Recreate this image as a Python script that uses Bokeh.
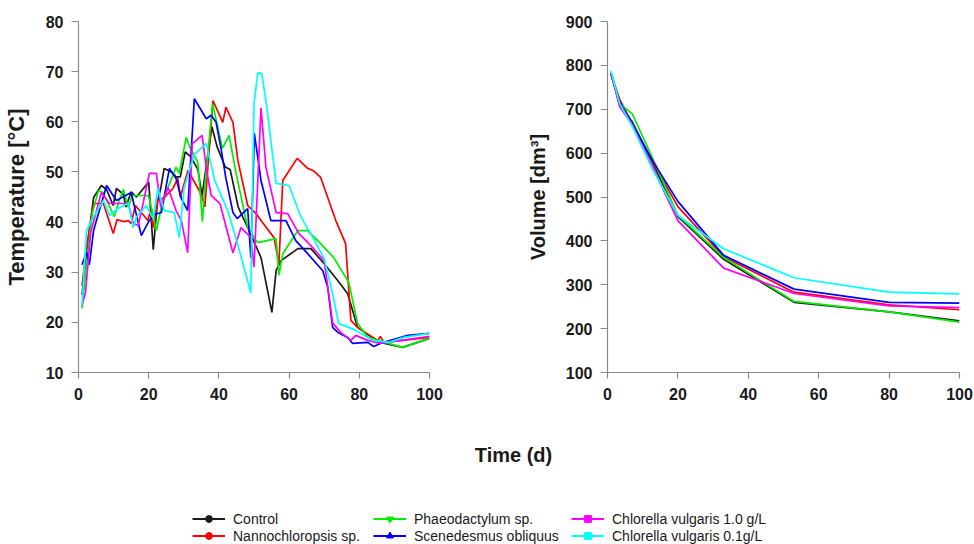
from bokeh.plotting import figure
from bokeh.layouts import column, row
from bokeh.models import Range1d, Legend, LegendItem, Label, FixedTicker
from bokeh.embed import file_html
from bokeh.resources import INLINE

# ---------------- data ----------------
series_names = ["Control", "Nannochloropsis sp.", "Phaeodactylum sp.",
                "Scenedesmus obliquus", "Chlorella vulgaris 1.0 g/L", "Chlorella vulgaris 0.1g/L"]
series_colors = ["#1a1a1a", "#ff0000", "#00ee00", "#0000ff", "#ff00ff", "#00ffff"]
series_markers = ["circle", "circle", "inverted_triangle", "triangle", "square", "square"]

# Temperature (left panel)
days_ctrl = [1, 2.5, 4.3, 6.5, 8, 9.9, 10.8, 12.8, 13.5, 15, 16.5, 20, 21.3, 22.5, 23.5, 24.4, 26.5, 27.8, 29,
             30.4, 32, 34, 35.2, 38, 39.5, 41.8, 43.2, 45.5, 48.6, 52, 55.1, 56.3, 57.7, 62.5, 66.2, 70, 73.9,
             76.7, 79.5, 82.7, 86, 92.3, 100]
temp_ctrl = [25.5, 35, 44.9, 47.3, 46.5, 43.3, 46.7, 45.5, 43, 46, 45, 48, 34.5, 44, 47, 50.7, 50, 49, 49,
             54, 53, 50.5, 45.3, 59, 55, 51, 50.5, 43, 38.3, 32.9, 22, 30.3, 32.3, 34.7, 34.7, 31.7, 28.3,
             25.7, 19, 17.4, 16, 15, 16.8]

days_red = [1, 2.5, 4.3, 7.1, 9.9, 11, 13, 14.2, 15, 16.2, 19.8, 20.5, 21.3, 22.6, 24.5, 26.9, 28.3, 29, 31.2,
            35, 36, 38.3, 41.1, 42, 44, 45.4, 48.2, 50.6, 52, 55.7, 57.1, 58.2, 62.3, 65.3, 66.8, 69, 73.3,
            76.1, 77.6, 79.5, 85.2, 86, 87, 100]
temp_red = [27.3, 36, 43.7, 43.7, 37.7, 40.5, 40.1, 40.3, 39.7, 43.3, 40.3, 42.3, 38.9, 44.3, 44.9, 46.7,
            48.7, 45, 50.3, 45.5, 43, 64.2, 59.9, 62.9, 59.9, 52.3, 43.3, 41.7, 40.3, 36.9, 31.7, 48.3, 52.7,
            50.7, 50.3, 48.9, 40.3, 35.7, 20.4, 19, 16.4, 17.2, 16, 17]

days_grn = [1, 2.5, 4, 5.7, 7, 10.2, 11.6, 12.8, 14.2, 15.3, 19.9, 20.5, 22.2, 23.6, 25.5, 27.8, 28.7, 30.7,
            31.5, 34, 35.3, 36, 38.2, 41, 42.9, 44.9, 48.2, 51, 56.3, 57.1, 58.2, 62.5, 65.3, 69, 72.7, 77,
            79.5, 82.4, 92.3, 100]
temp_grn = [22.8, 33, 42, 46.3, 45.9, 41.1, 44.3, 46.5, 42.9, 45.3, 45.3, 43.7, 38.3, 43, 46.9, 50.9, 49.7,
            56.9, 55.3, 51.9, 40.1, 47.3, 63.6, 54.7, 57.3, 49.7, 38.9, 35.9, 36.7, 29.4, 33.7, 38.3, 38.3,
            35.7, 32.9, 28, 19.8, 17, 15, 16.8]

days_blu = [1, 2.3, 3.1, 4.3, 8, 10.8, 15, 17.9, 19.9, 21.6, 23.6, 25.9, 27.8, 29.3, 31.1, 33, 36.4, 37.8,
            39.2, 40.6, 42, 44, 45.2, 48.2, 49.1, 50.1, 52, 54.8, 59.1, 61.9, 65.3, 69.6, 71, 72.4, 73.9,
            76.7, 78.1, 82.4, 84.1, 86, 93.8, 100]
temp_blu = [31.5, 34, 31.5, 38.3, 47.3, 44.3, 45.9, 37.3, 40, 41.5, 41.9, 50.7, 48.7, 44.7, 42.3, 64.6,
            60.6, 61.3, 59.9, 54.7, 48.7, 41.9, 40.7, 42.7, 32.9, 57.7, 48.3, 40.3, 40.3, 36.3, 33.7, 30.3,
            27, 19, 18, 17, 15.8, 16, 15.2, 15.8, 17.4, 17.8]

days_mag = [1, 2, 3.5, 6.5, 8.8, 14.2, 15.6, 17, 18.4, 20.2, 22.2, 23.4, 25.5, 27.8, 29.3, 31.1, 32.4, 35.2,
            36.6, 37.8, 40.3, 44, 46.3, 49.1, 50, 52, 53.4, 56.3, 59.6, 62.8, 66.2, 70, 71.3, 72.4, 74.7,
            77.6, 79, 82.4, 86, 100]
temp_mag = [23.4, 26, 38, 45.9, 43.7, 43.7, 39.7, 39.3, 43.7, 49.7, 49.7, 43, 46.9, 42.3, 40.3, 33.9, 55.6,
            57.3, 49.9, 45.3, 43.7, 33.9, 38.9, 36.9, 31, 62.8, 50.9, 41.9, 41.7, 37.7, 35.3, 32.3, 25.7,
            19.9, 18, 16.4, 17.4, 16.4, 15.8, 17.2]

days_cyn = [1, 2.3, 3.7, 7.1, 8.8, 11.6, 14.2, 15.6, 16.5, 19.3, 21.3, 22.6, 24.4, 27.3, 28.7, 30.1, 33,
            36.4, 38.8, 42.5, 44.9, 49.1, 50, 51.1, 52.2, 53.4, 56.3, 60, 63.4, 66.8, 70, 72.4, 74.1, 77,
            79, 83.8, 88.4, 92.6, 100]
temp_cyn = [23.5, 38.3, 40.3, 44.3, 41.3, 42.9, 43.7, 38.9, 41, 43.3, 40.7, 46.7, 42.3, 41.9, 36.9, 46.9,
            53.5, 55.7, 48.3, 42.3, 36.7, 25.9, 63.6, 69.8, 69.6, 64.2, 47.7, 47.3, 41, 36.9, 32.7, 25.7,
            19.8, 19, 18.4, 16.4, 16, 17, 17.8]

# Volume (right panel)
vol_days = [1, 3.5, 7, 13, 20, 33, 53, 80, 100]
vol_ctrl = [782, 707, 672, 575, 455, 358, 260, 238, 218]
vol_red = [780, 722, 668, 578, 478, 364, 283, 254, 243]
vol_grn = [785, 712, 690, 585, 458, 362, 262, 238, 215]
vol_blu = [780, 715, 668, 580, 490, 367, 290, 260, 258]
vol_mag = [783, 705, 665, 565, 446, 338, 280, 252, 248]
vol_cyn = [787, 712, 662, 560, 458, 382, 316, 283, 279]

x_ticks = [0, 20, 40, 60, 80, 100]
temp_ticks = [10, 20, 30, 40, 50, 60, 70, 80]
vol_ticks = [100, 200, 300, 400, 500, 600, 700, 800, 900]

temp_series = [(days_ctrl, temp_ctrl), (days_red, temp_red), (days_grn, temp_grn),
               (days_blu, temp_blu), (days_mag, temp_mag), (days_cyn, temp_cyn)]
vol_series = [vol_ctrl, vol_red, vol_grn, vol_blu, vol_mag, vol_cyn]

FONT = "Liberation Sans"
AXIS_GRAY = "#8a8a8a"


def style(p, xt, yt):
    p.outline_line_color = None
    p.xgrid.visible = False
    p.ygrid.visible = False
    p.background_fill_color = "white"
    p.border_fill_color = "white"
    p.xaxis.ticker = FixedTicker(ticks=xt)
    p.yaxis.ticker = FixedTicker(ticks=yt)
    for ax in (p.xaxis[0], p.yaxis[0]):
        ax.axis_line_color = AXIS_GRAY
        ax.axis_line_width = 1.2
        ax.major_tick_line_color = AXIS_GRAY
        ax.major_tick_line_width = 1.2
        ax.minor_tick_line_color = None
        ax.major_tick_in = 0
        ax.major_label_text_font = FONT
        ax.major_label_text_font_style = "bold"
        ax.major_label_text_font_size = "16px"
        ax.major_label_text_color = "#1a1a1a"
        ax.axis_label_text_font = FONT
        ax.axis_label_text_font_style = "bold"
        ax.axis_label_text_color = "#1a1a1a"
    p.xaxis.major_tick_out = 6
    p.yaxis.major_tick_out = 7
    p.xaxis.major_label_standoff = 9
    p.yaxis.major_label_standoff = 8
    p.yaxis.axis_label_standoff = 14


f1 = figure(width=487, height=410, x_range=Range1d(0, 100), y_range=Range1d(10, 80),
            output_backend="svg", toolbar_location=None,
            min_border_left=77, min_border_right=58, min_border_top=21, min_border_bottom=38)
style(f1, x_ticks, temp_ticks)
f1.yaxis.axis_label = "Temperature [°C]"
f1.yaxis.axis_label_text_font_size = "22px"
for (d, t), c in zip(temp_series, series_colors):
    f1.line(d, t, line_color=c, line_width=1.7)

f2 = figure(width=487, height=410, x_range=Range1d(0, 100), y_range=Range1d(100, 900),
            output_backend="svg", toolbar_location=None,
            min_border_left=120, min_border_right=15, min_border_top=21, min_border_bottom=38)
style(f2, x_ticks, vol_ticks)
f2.yaxis.axis_label = "Volume [dm³]"
f2.yaxis.axis_label_text_font_size = "20px"
for v, c in zip(vol_series, series_colors):
    f2.line(vol_days, v, line_color=c, line_width=1.7)

# legend / shared x label panel
f3 = figure(width=974, height=134, x_range=Range1d(0, 974), y_range=Range1d(0, 134),
            output_backend="svg", toolbar_location=None, x_axis_type=None, y_axis_type=None,
            min_border=0)
f3.outline_line_color = None
f3.background_fill_color = "white"
f3.border_fill_color = "white"
f3.add_layout(Label(x=513, y=90, text="Time (d)", text_align="center", text_baseline="middle",
                    text_font=FONT, text_font_size="20px", text_font_style="bold",
                    text_color="#1a1a1a"))

# hidden renderers (series data) that only serve as legend glyph sources
items = []
for name, c, m, (d, t) in zip(series_names, series_colors, series_markers, temp_series):
    rl = f3.line(d, t, line_color=c, line_width=2, visible=False)
    rm = f3.scatter(d, t, marker=m, size=8, fill_color=c, line_color=c, visible=False)
    items.append(LegendItem(label=name, renderers=[rl, rm]))

for i, xpos in enumerate([192, 373, 571]):
    leg = Legend(items=items[2 * i:2 * i + 2], location=(xpos, 0), orientation="vertical",
                 glyph_width=33, glyph_height=17, label_height=17, spacing=0, padding=0, margin=0,
                 label_standoff=8, border_line_color=None, background_fill_alpha=0,
                 click_policy="none",
                 label_text_font=FONT, label_text_font_size="14px", label_text_color="#1a1a1a")
    f3.add_layout(leg)

layout = column(row(f1, f2, spacing=0), f3, spacing=0)
open("out.html", "w").write(file_html(layout, INLINE))
